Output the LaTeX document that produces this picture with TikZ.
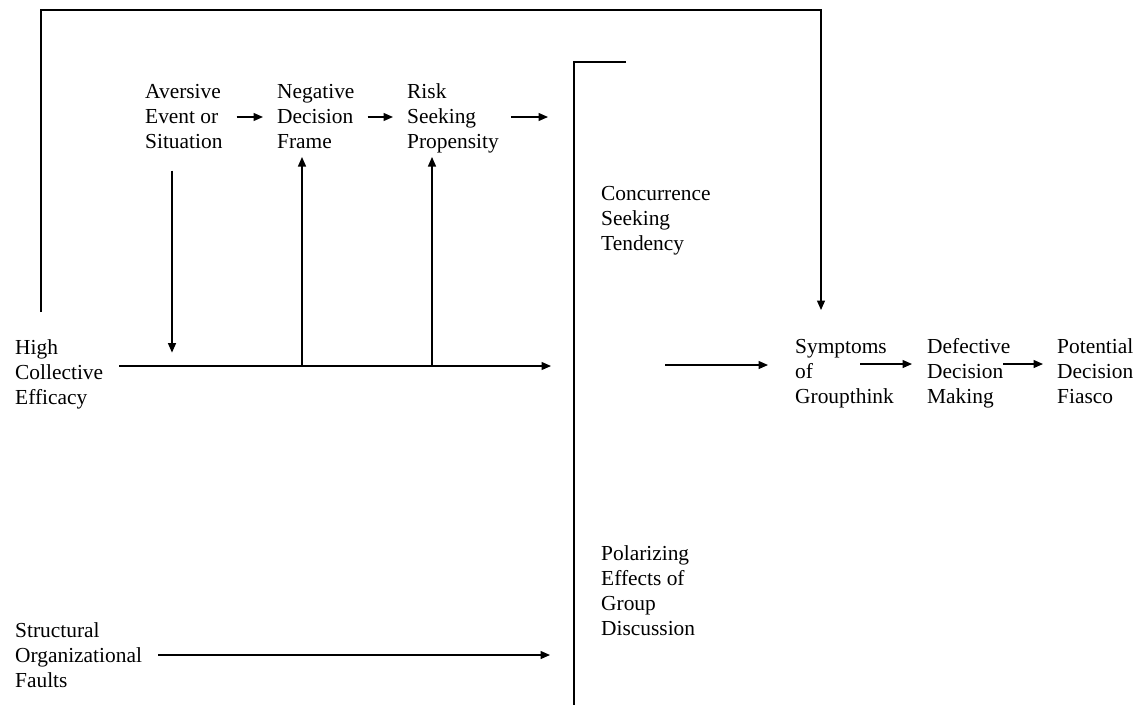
\documentclass[tikz,border=0pt]{standalone}
\usepackage{fontspec}
\setmainfont{Liberation Serif}
\usetikzlibrary{arrows.meta,calc}
\begin{document}
\begin{tikzpicture}[x=1pt,y=-1pt,
  txt/.style={anchor=north west, align=left, inner sep=0pt,
    font=\fontsize{21.4}{25}\selectfont},
  link/.style={line width=1.3pt},
  arr/.style={link, -{Triangle[length=9.5pt,width=8pt]}}]
\useasboundingbox (0,0) rectangle (1142,704);

% factors and outcomes (node top = first baseline - 17.5)
\node[txt] (aversive)   at (145,80.5)  {\strut Aversive\\Event or\\Situation};
\node[txt] (negative)   at (277,80.5)  {\strut Negative\\Decision\\Frame};
\node[txt] (risk)       at (407,80.5)  {\strut Risk\\Seeking\\Propensity};
\node[txt] (concur)     at (601,182.5) {\strut Concurrence\\Seeking\\Tendency};
\node[txt] (high)       at (15,336.5)  {\strut High\\Collective\\Efficacy};
\node[txt] (symptoms)   at (795,335.5) {\strut Symptoms\\of\\Groupthink};
\node[txt] (defective)  at (927,335.5) {\strut Defective\\Decision\\Making};
\node[txt] (potential)  at (1057,335.5){\strut Potential\\Decision\\Fiasco};
\node[txt] (polar)      at (601,542.5) {\strut Polarizing\\Effects of\\Group\\Discussion};
\node[txt] (structural) at (15,619.5)  {\strut Structural\\Organizational\\Faults};

% bracket grouping the two group processes
\coordinate (brtop) at (574,62);
\draw[link] (626,62) -- (brtop) -- (574,706);

% upper chain
\draw[arr] ($(aversive.north east)+(14,36.5)$) -- ($(negative.north west)+(-14,36.5)$);
\draw[arr] ($(negative.north east)+(13,36.5)$) -- ($(risk.north west)+(-14,36.5)$);
\draw[arr] ($(risk.north east)+(12,36.5)$) coordinate (r3) -- ([xshift=-26pt]r3 -| brtop);

% main line from collective efficacy
\draw[arr] ($(high.north east)+(16,29.5)$) coordinate (hl) -- ([xshift=-23pt]hl -| brtop);
\draw[arr] ($(aversive.south west)+(27,22)$) -- ++(0,182);
\coordinate (j1) at (hl -| 302,0);
\coordinate (j2) at (hl -| 432,0);
\draw[arr] (j1) -- ++(0,-209);
\draw[arr] (j2) -- ++(0,-209);

% structural faults
\draw[arr] ($(structural.north east)+(16,35.5)$) coordinate (so) -- ([xshift=-24pt]so -| brtop);

% group processes to outcomes
\coordinate (cst) at (665,365);
\draw[arr] (cst) -- ([xshift=-27pt]cst -| symptoms.west);
\draw[arr] ($(symptoms.north west)+(65,28.5)$) coordinate (s1) -- ([xshift=-15pt]s1 -| defective.west);
\draw[arr] ($(defective.north west)+(76,28.5)$) coordinate (d1) -- ([xshift=-14pt]d1 -| potential.west);

% direct path from collective efficacy to groupthink symptoms
\draw[arr] ([xshift=26pt,yshift=24.5pt]high.north west) -- ++(0,-302)
  -| ([xshift=26pt,yshift=25.5pt]symptoms.north west);
\end{tikzpicture}
\end{document}
